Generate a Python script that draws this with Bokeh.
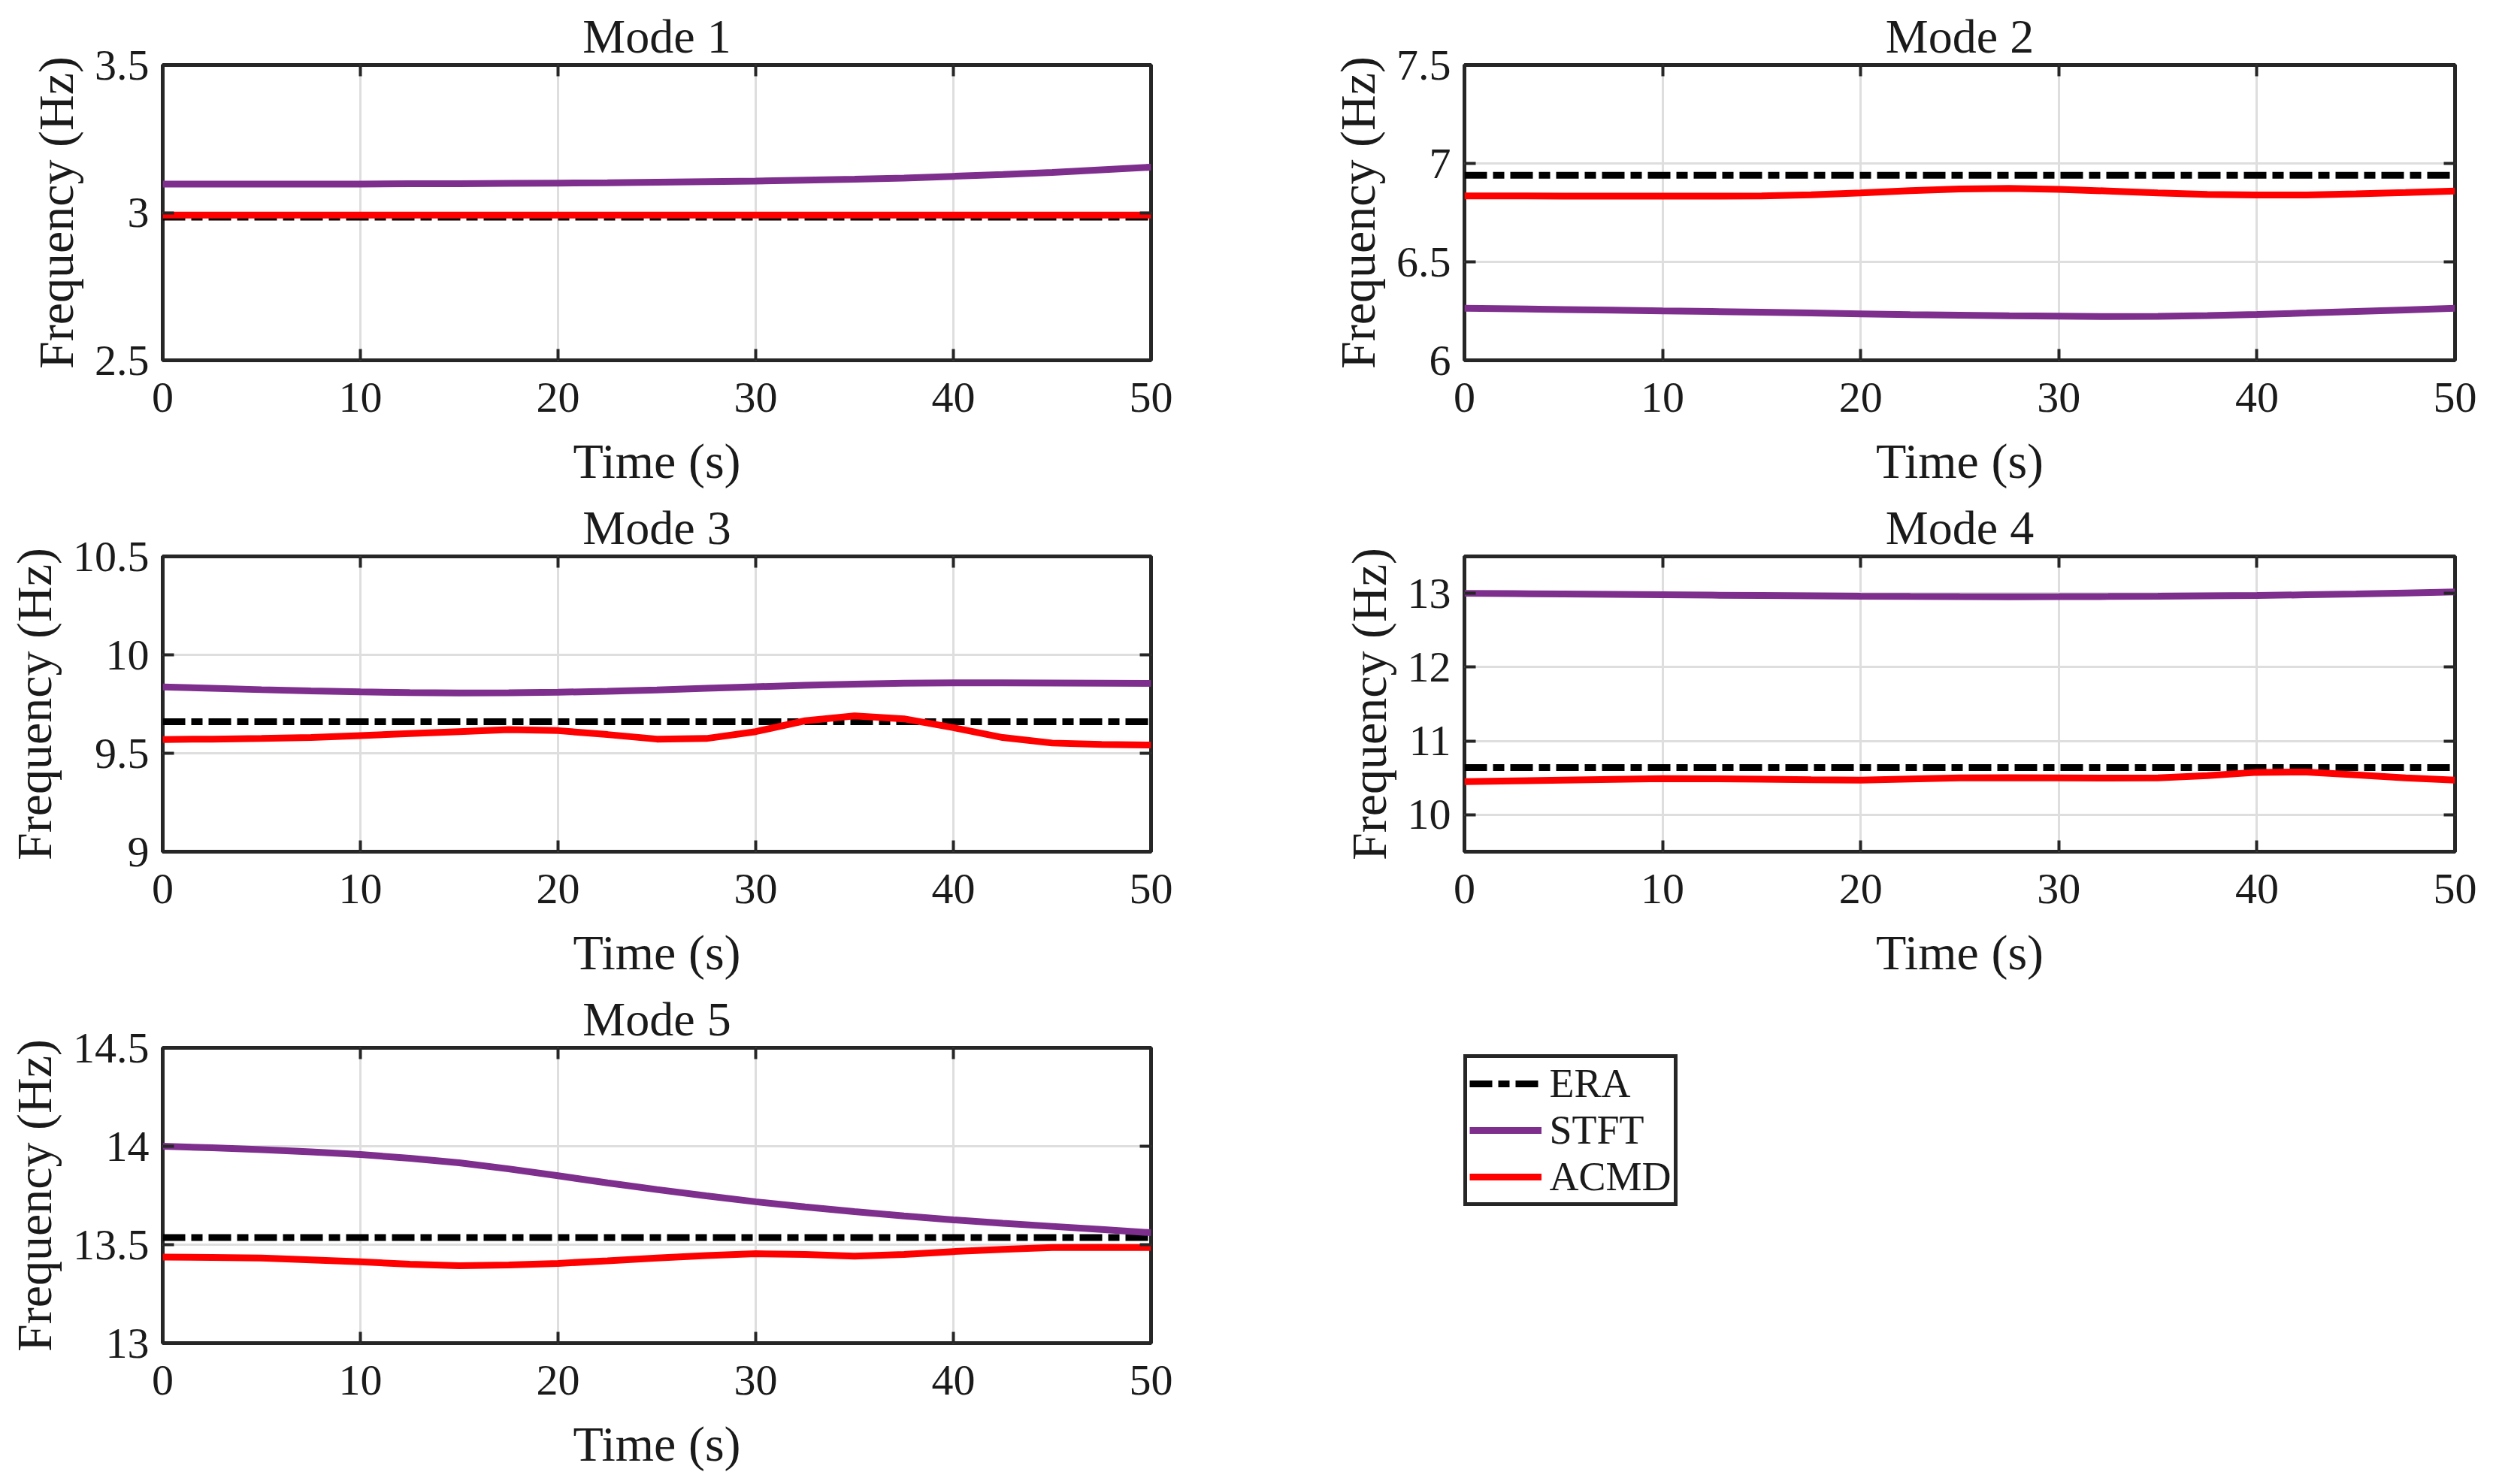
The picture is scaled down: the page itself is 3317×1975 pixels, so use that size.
from bokeh.plotting import figure
from bokeh.models import FixedTicker, LinearAxis, Range1d, Legend, LegendItem
from bokeh.layouts import column, row
from bokeh.embed import file_html
from bokeh.resources import INLINE

# ---------------- data ----------------
time_s = [0, 2.5, 5, 7.5, 10, 12.5, 15, 17.5, 20, 22.5, 25,
          27.5, 30, 32.5, 35, 37.5, 40, 42.5, 45, 47.5, 50]

mode_titles = ["Mode 1", "Mode 2", "Mode 3", "Mode 4", "Mode 5"]

era_hz = [2.985, 6.940, 9.660, 10.640, 13.536]

stft_m1 = [3.097, 3.097, 3.097, 3.097, 3.097, 3.098, 3.098, 3.099, 3.100, 3.101, 3.103,
           3.105, 3.107, 3.110, 3.113, 3.117, 3.123, 3.129, 3.136, 3.145, 3.154]
acmd_m1 = [2.992, 2.992, 2.992, 2.992, 2.992, 2.992, 2.992, 2.992, 2.992, 2.992, 2.992,
           2.992, 2.992, 2.992, 2.992, 2.992, 2.992, 2.992, 2.992, 2.992, 2.992]

stft_m2 = [6.264, 6.261, 6.258, 6.255, 6.251, 6.248, 6.244, 6.240, 6.236, 6.232, 6.229,
           6.226, 6.224, 6.222, 6.223, 6.227, 6.233, 6.240, 6.248, 6.256, 6.264]
acmd_m2 = [6.835, 6.835, 6.834, 6.834, 6.834, 6.834, 6.835, 6.841, 6.850, 6.862, 6.870,
           6.873, 6.868, 6.860, 6.850, 6.843, 6.840, 6.840, 6.845, 6.852, 6.860]

stft_m3 = [9.837, 9.830, 9.823, 9.817, 9.812, 9.808, 9.806, 9.807, 9.810, 9.815, 9.822,
           9.830, 9.838, 9.845, 9.851, 9.856, 9.858, 9.858, 9.857, 9.856, 9.855]
acmd_m3 = [9.570, 9.572, 9.575, 9.580, 9.590, 9.600, 9.610, 9.620, 9.615, 9.595, 9.572,
           9.575, 9.610, 9.665, 9.690, 9.675, 9.630, 9.580, 9.552, 9.545, 9.542]

stft_m4 = [13.000, 12.995, 12.990, 12.985, 12.980, 12.975, 12.970, 12.965, 12.960, 12.957, 12.955,
           12.954, 12.955, 12.957, 12.960, 12.965, 12.970, 12.980, 12.990, 13.005, 13.020]
acmd_m4 = [10.450, 10.460, 10.470, 10.480, 10.490, 10.488, 10.482, 10.475, 10.470, 10.485, 10.500,
           10.502, 10.500, 10.498, 10.500, 10.530, 10.575, 10.580, 10.540, 10.500, 10.470]

stft_m5 = [14.000, 13.992, 13.983, 13.971, 13.958, 13.939, 13.916, 13.885, 13.850, 13.814, 13.780,
           13.748, 13.718, 13.692, 13.668, 13.646, 13.626, 13.609, 13.593, 13.577, 13.561]
acmd_m5 = [13.437, 13.435, 13.432, 13.423, 13.413, 13.401, 13.393, 13.397, 13.405, 13.418, 13.432,
           13.445, 13.454, 13.450, 13.442, 13.450, 13.465, 13.476, 13.486, 13.487, 13.486]

stft_all = [stft_m1, stft_m2, stft_m3, stft_m4, stft_m5]
acmd_all = [acmd_m1, acmd_m2, acmd_m3, acmd_m4, acmd_m5]

y_limits = [(2.5, 3.5), (6.0, 7.5), (9.0, 10.5), (9.5, 13.5), (13.0, 14.5)]
y_ticks = [[2.5, 3, 3.5], [6, 6.5, 7, 7.5], [9, 9.5, 10, 10.5], [10, 11, 12, 13], [13, 13.5, 14, 14.5]]
y_tick_labels = [["2.5", "3", "3.5"], ["6", "6.5", "7", "7.5"], ["9", "9.5", "10", "10.5"],
                 ["10", "11", "12", "13"], ["13", "13.5", "14", "14.5"]]
x_ticks = [0, 10, 20, 30, 40, 50]
x_tick_labels = ["0", "10", "20", "30", "40", "50"]

series_names = ["ERA", "STFT", "ACMD"]

# ---------------- style ----------------
FONT = "Liberation Serif"
TXT = "#1a1a1a"
FRAME = "#262626"
C_ERA = "#000000"
C_STFT = "#7E2F8E"
C_ACMD = "#FF0000"
LW = 9


def make_panel(i, b_left, b_right, b_top, b_bottom, fw):
    p = figure(frame_width=fw, frame_height=393,
               min_border_left=b_left, min_border_right=b_right,
               min_border_top=b_top, min_border_bottom=b_bottom,
               x_range=Range1d(0, 50), y_range=Range1d(*y_limits[i]),
               output_backend="svg", toolbar_location=None,
               background_fill_color="white", border_fill_color="white")
    p.title.text = mode_titles[i]
    p.title.text_font = FONT
    p.title.text_font_size = "64px"
    p.title.text_font_style = "normal"
    p.title.text_color = TXT
    p.title.align = "center"
    p.title.standoff = 6

    p.outline_line_color = FRAME
    p.outline_line_width = 5
    p.outline_line_alpha = 1.0

    xt = FixedTicker(ticks=x_ticks)
    yt = FixedTicker(ticks=y_ticks[i])
    xo = {t: l for t, l in zip(x_ticks, x_tick_labels)}
    yo = {t: l for t, l in zip(y_ticks[i], y_tick_labels[i])}

    for ax, tk, ov, lab in ((p.xaxis[0], xt, xo, "Time (s)"), (p.yaxis[0], yt, yo, "Frequency (Hz)")):
        ax.ticker = tk
        ax.major_label_overrides = ov
        ax.axis_label = lab
        ax.axis_label_text_font = FONT
        ax.axis_label_text_font_size = "66px"
        ax.axis_label_text_font_style = "normal"
        ax.axis_label_text_color = TXT
        ax.major_label_text_font = FONT
        ax.major_label_text_font_size = "58px"
        ax.major_label_text_color = TXT
        ax.major_tick_in = 15
        ax.major_tick_out = 0
        ax.major_tick_line_color = FRAME
        ax.major_tick_line_width = 4
        ax.minor_tick_line_color = None
        ax.axis_line_color = None
    p.xaxis[0].major_label_standoff = 30
    p.xaxis[0].axis_label_standoff = 26
    p.yaxis[0].major_label_standoff = 18
    p.yaxis[0].axis_label_standoff = 12

    for loc, tk in (("above", xt), ("right", yt)):
        ax = LinearAxis(ticker=tk)
        ax.major_label_overrides = {t: "" for t in tk.ticks}
        ax.major_label_text_font_size = "1px"
        ax.major_label_text_color = None
        ax.major_label_standoff = 0
        ax.major_tick_in = 15
        ax.major_tick_out = 0
        ax.major_tick_line_color = FRAME
        ax.major_tick_line_width = 4
        ax.minor_tick_line_color = None
        ax.axis_line_color = None
        p.add_layout(ax, loc)

    p.xgrid.ticker = xt
    p.ygrid.ticker = yt
    for g in (p.xgrid[0], p.ygrid[0]):
        g.grid_line_color = "#dedede"
        g.grid_line_width = 3

    r_era = p.line([time_s[0], time_s[-1]], [era_hz[i], era_hz[i]],
                   line_color=C_ERA, line_width=LW, line_dash="30 8 15 8")
    r_stft = p.line(time_s, stft_all[i], line_color=C_STFT, line_width=LW)
    r_acmd = p.line(time_s, acmd_all[i], line_color=C_ACMD, line_width=LW)
    return p, (r_era, r_stft, r_acmd)


W1 = 216 + 1315 + 217
W2 = 200 + 1318 + 30

p1, _ = make_panel(0, 216, 217, 86, 180, 1315)
p2, _ = make_panel(1, 200, 30, 86, 180, 1318)
p3, _ = make_panel(2, 216, 217, 81, 180, 1315)
p4, _ = make_panel(3, 200, 30, 81, 180, 1318)
p5, rs = make_panel(4, 216, W1 + W2 - 216 - 1315, 81, 180, 1315)

legend = Legend(items=[LegendItem(label=n, renderers=[r]) for n, r in zip(series_names, rs)],
                location=(-324, 182))
legend.label_text_font = FONT
legend.label_text_font_size = "54px"
legend.label_text_color = TXT
legend.border_line_color = FRAME
legend.border_line_width = 5
legend.border_line_alpha = 1.0
legend.background_fill_color = "white"
legend.background_fill_alpha = 1.0
legend.glyph_width = 96
legend.glyph_height = 56
legend.label_height = 56
legend.label_standoff = 10
legend.padding = 3
legend.spacing = 0
legend.margin = 0
p5.add_layout(legend, "right")

layout = column(row(p1, p2), row(p3, p4), p5)

open("out.html", "w").write(file_html(layout, INLINE))
